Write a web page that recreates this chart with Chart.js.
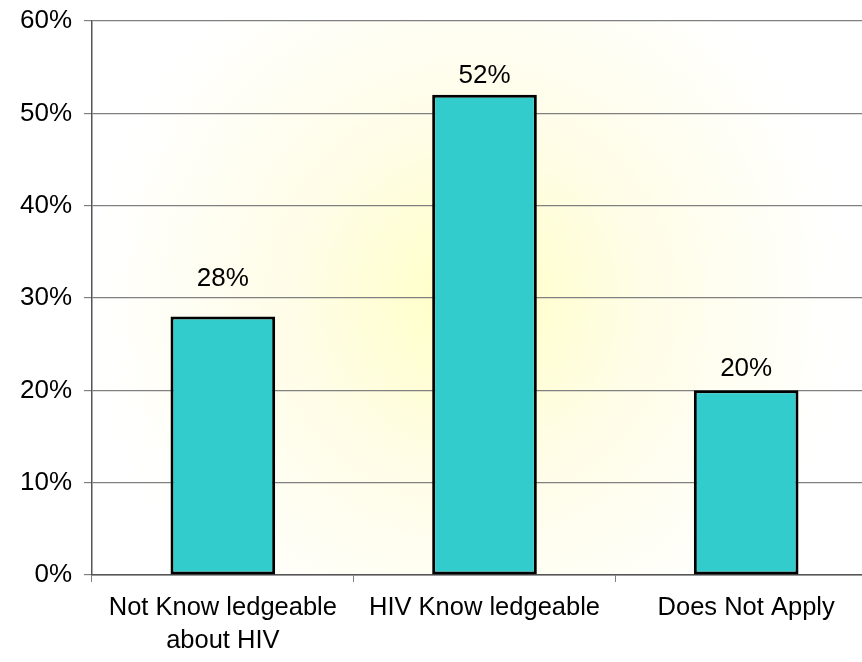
<!DOCTYPE html>
<html>
<head>
<meta charset="utf-8">
<script src="https://cdn.jsdelivr.net/npm/chart.js@4.4.1/dist/chart.umd.min.js"></script>
<style>
    html, body { margin: 0; padding: 0; background: #fff; overflow: hidden; }
    #wrap { width: 878px; height: 662px; }
</style>
</head>
<body>
<div id="wrap"><canvas id="hivChart"></canvas></div>
<script>
// chart data
const categories = [['Not Know ledgeable', 'about HIV'], 'HIV Know ledgeable', 'Does Not Apply'];
const shares = [28, 52, 20];
const yTicks = [0, 10, 20, 30, 40, 50, 60];

// how far each value label sits above its bar (px)
const labelLift = [25, 6, 9];

const fontFamily = '"Liberation Sans", Arial, sans-serif';

// soft yellow glow behind the bars
const glowBackground = {
    id: 'glowBackground',
    beforeDraw(chart) {
        const { ctx, chartArea: a } = chart;
        const cx = 470, cy = 300;
        const g = ctx.createRadialGradient(cx, cy, 0, cx, cy, 380);
        g.addColorStop(0, '#ffffc4');
        g.addColorStop(0.45, '#fffde6');
        g.addColorStop(1, '#ffffff');
        ctx.save();
        ctx.fillStyle = g;
        ctx.fillRect(a.left, a.top, a.right - a.left, a.bottom - a.top);
        ctx.restore();
    }
};

const valueLabels = {
    id: 'valueLabels',
    afterDatasetsDraw(chart) {
        const { ctx } = chart;
        const meta = chart.getDatasetMeta(0);
        ctx.save();
        ctx.font = '26px ' + fontFamily;
        ctx.fillStyle = '#000';
        ctx.textAlign = 'center';
        ctx.textBaseline = 'bottom';
        meta.data.forEach((bar, i) => {
            ctx.fillText(shares[i] + '%', bar.x, bar.y - labelLift[i]);
        });
        ctx.restore();
    }
};

new Chart(document.getElementById('hivChart'), {
    type: 'bar',
    data: {
        labels: categories,
        datasets: [{
            data: shares,
            backgroundColor: '#33cccc',
            borderColor: '#000000',
            borderWidth: 3,
            borderSkipped: false,
            categoryPercentage: 1,
            barPercentage: 0.4
        }]
    },
    options: {
        responsive: true,
        maintainAspectRatio: false,
        animation: false,
        layout: { padding: { top: 21, right: 1, left: 0, bottom: 0 } },
        plugins: {
            legend: { display: false },
            tooltip: { enabled: false }
        },
        scales: {
            x: {
                offset: true,
                grid: {
                    offset: true,
                    drawOnChartArea: false,
                    drawTicks: true,
                    tickLength: 7,
                    color: '#808080'
                },
                border: { color: '#555555', width: 1.5 },
                ticks: {
                    color: '#000',
                    padding: 9,
                    font: { family: fontFamily, size: 25.5, lineHeight: 1.3 }
                },
                afterFit(scale) {
                    scale.height = 87;
                    scale.paddingLeft = 0;
                    scale.paddingRight = 0;
                }
            },
            y: {
                min: 0,
                max: 60,
                afterBuildTicks(scale) {
                    scale.ticks = yTicks.map(v => ({ value: v }));
                },
                grid: {
                    color: '#808080',
                    lineWidth: 1.2,
                    drawTicks: true,
                    tickLength: 8
                },
                border: { color: '#555555', width: 1.5 },
                ticks: {
                    color: '#000',
                    padding: 12,
                    font: { family: fontFamily, size: 26 },
                    callback: v => v + '%'
                },
                afterFit(scale) {
                    scale.width = 92;
                    scale.paddingTop = 0;
                    scale.paddingBottom = 0;
                }
            }
        }
    },
    plugins: [glowBackground, valueLabels]
});
</script>
</body>
</html>
